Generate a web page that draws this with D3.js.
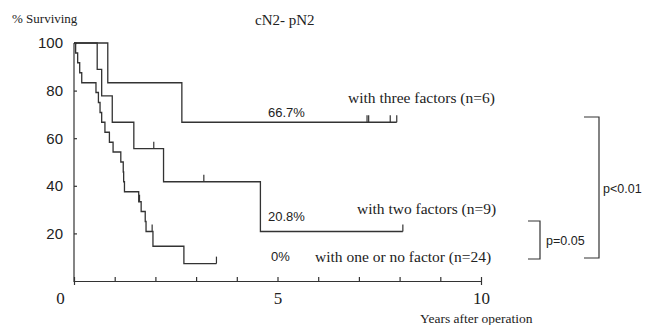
<!DOCTYPE html>
<html>
<head>
<meta charset="utf-8">
<script src="https://cdn.jsdelivr.net/npm/d3@7"></script>
<style>
  html, body { margin: 0; padding: 0; background: #fff; }
  svg { display: block; }
  .serif { font-family: "Liberation Serif", "DejaVu Serif", serif; }
  .sans { font-family: "Liberation Sans", Arial, sans-serif; }
</style>
</head>
<body>
<svg id="chart" width="646" height="325"></svg>
<script>
// Kaplan-Meier steps: [years, % surviving]
const threeFactors = [[0, 100], [0.83, 83.3], [2.65, 66.7], [7.93, 66.7]];
const threeCensored = [7.2, 7.24, 7.77, 7.93];

const twoFactors = [[0, 100], [0.57, 88.9], [0.68, 77.8], [0.94, 66.7], [1.47, 55.6],
  [2.2, 41.7], [4.58, 20.8], [8.08, 20.8]];
const twoCensored = [1.96, 3.19, 8.08];

const oneOrNone = [[0, 100], [0.04, 95.8], [0.09, 91.7], [0.14, 87.5], [0.19, 83.3],
  [0.54, 79.2], [0.6, 75], [0.64, 70.8], [0.68, 66.7], [0.76, 62.5], [0.87, 58.3],
  [0.96, 54.2], [1.15, 50], [1.21, 45.8], [1.22, 41.7], [1.24, 37.5], [1.59, 33.3],
  [1.65, 29.2], [1.75, 25], [1.77, 20.8], [1.94, 14.6], [2.7, 7.3], [3.5, 7.3]];
const oneCensored = [1.61, 1.92, 3.5];

const yTicks = [0, 20, 40, 60, 80, 100];
const xTicks = d3.range(0, 11);
const xLabels = [0, 5, 10];

const svg = d3.select("#chart");
const ink = "#333";

const x = d3.scaleLinear().domain([0, 10]).range([74, 481]);
const y = d3.scaleLinear().domain([0, 100]).range([281, 43]);

// axes
const xAxis = svg.append("g").attr("transform", `translate(0,${y(0)})`)
  .call(d3.axisBottom(x).tickValues(xTicks).tickSizeInner(-4).tickSizeOuter(4)
    .tickPadding(10).tickFormat(d => xLabels.includes(d) ? d : ""));
xAxis.selectAll("path, line").attr("stroke", ink).attr("stroke-width", 1.2);
xAxis.selectAll("text").attr("class", "serif").attr("font-size", 17)
  .attr("fill", "#222").attr("dy", "0.75em");
xAxis.selectAll("text").filter(d => d === 0).attr("dx", -14);

const yAxis = svg.append("g").attr("transform", `translate(${x(0)},0)`)
  .call(d3.axisLeft(y).tickValues(yTicks.filter(d => d > 0)).tickSizeInner(-3)
    .tickSizeOuter(0).tickPadding(11));
yAxis.select(".domain").attr("d", `M0,${y(100)}V${y(0) + 1}`);
yAxis.selectAll("path, line").attr("stroke", ink).attr("stroke-width", 1.2);
yAxis.selectAll("text").attr("class", "sans").attr("font-size", 15).attr("fill", "#222");

// curves
const line = d3.line().x(d => x(d[0])).y(d => y(d[1])).curve(d3.curveStepAfter);
const series = [
  { pts: threeFactors, cens: threeCensored },
  { pts: twoFactors, cens: twoCensored },
  { pts: oneOrNone, cens: oneCensored }
];
series.forEach(s => {
  svg.append("path").attr("d", line(s.pts)).attr("fill", "none")
    .attr("stroke", ink).attr("stroke-width", 1.3);
  const level = t => s.pts.filter(p => p[0] <= t).pop()[1];
  svg.append("g").selectAll("line").data(s.cens).join("line")
    .attr("x1", d => x(d)).attr("x2", d => x(d))
    .attr("y1", d => y(level(d))).attr("y2", d => y(level(d)) - 7)
    .attr("stroke", ink).attr("stroke-width", 1.2);
});

// text
const txt = (t, px, py, cls, size, anchor) => svg.append("text")
  .attr("x", px).attr("y", py).attr("class", cls).attr("font-size", size)
  .attr("fill", "#222").attr("text-anchor", anchor || "start").text(t);

txt("% Surviving", 12, 23, "serif", 13);
txt("cN2- pN2", 255, 25, "serif", 15);
txt("66.7%", 268, 117, "sans", 13);
txt("20.8%", 268, 221, "sans", 13);
txt("0%", 271, 261, "sans", 13);
txt("with three factors (n=6)", 348, 103, "serif", 15.5);
txt("with two factors (n=9)", 357, 214, "serif", 15.5);
txt("with one or no factor (n=24)", 315, 262, "serif", 15.5);
txt("Years after operation", 420, 323, "serif", 13.5);

// significance brackets
const bracket = (x0, x1, y0, y1) => svg.append("path")
  .attr("d", `M${x0},${y0}H${x1}V${y1}H${x0}`).attr("fill", "none")
  .attr("stroke", ink).attr("stroke-width", 1.2);
bracket(528, 540, 221, 259);
bracket(584, 599, 117, 258);
txt("p=0.05", 546, 245, "sans", 12.5);
txt("p<0.01", 603, 193, "sans", 12.5);
</script>
</body>
</html>
